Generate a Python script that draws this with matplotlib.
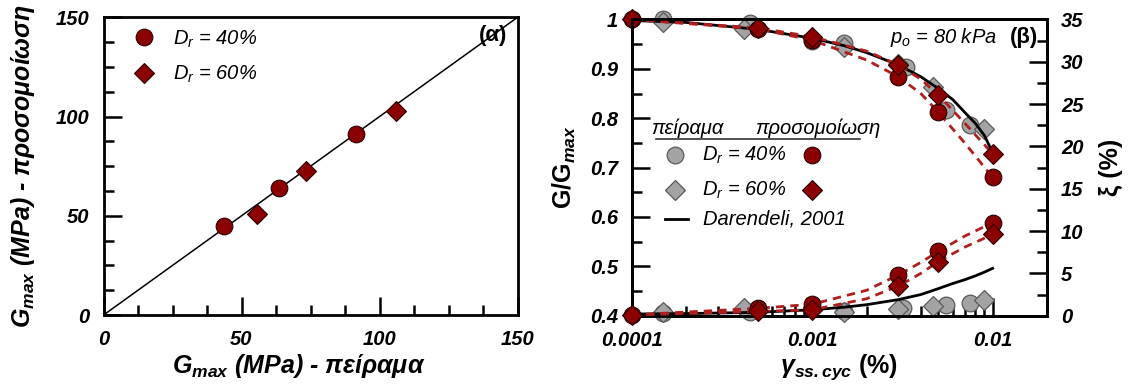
import matplotlib
matplotlib.use("Agg")
import matplotlib.pyplot as plt
from matplotlib.ticker import MultipleLocator, FixedLocator, FuncFormatter, LogLocator, NullFormatter

plt.rcParams['font.family'] = ['Liberation Sans', 'DejaVu Sans']
plt.rcParams['mathtext.fontset'] = 'custom'
plt.rcParams['mathtext.rm'] = 'Liberation Sans'
plt.rcParams['mathtext.it'] = 'Liberation Sans:italic'
plt.rcParams['mathtext.bf'] = 'Liberation Sans:bold'
plt.rcParams['mathtext.bfit'] = 'Liberation Sans:bold:italic'

# (α) Gmax: πείραμα vs προσομοίωση
gmax_exp_40 = [43.6, 63.5, 91.5]
gmax_sim_40 = [45.0, 64.2, 91.0]
gmax_exp_60 = [55.5, 73.5, 106.0]
gmax_sim_60 = [51.0, 72.5, 102.8]
line_11 = [0, 150]

# (β) πείραμα, G/Gmax
exp40_g_x = [1.5e-4, 4.5e-4, 1.0e-3, 1.5e-3, 3.3e-3, 5.5e-3, 7.5e-3]
exp40_g = [1.0, 0.992, 0.957, 0.952, 0.904, 0.817, 0.786]
exp60_g_x = [1.5e-4, 4.2e-4, 1.5e-3, 3.0e-3, 4.7e-3, 9.0e-3]
exp60_g = [0.994, 0.981, 0.945, 0.910, 0.864, 0.778]
# πείραμα, ξ (%)
exp40_d_x = [1.5e-4, 4.5e-4, 1.5e-3, 3.2e-3, 5.5e-3, 7.5e-3]
exp40_d = [0.3, 0.47, 0.6, 0.87, 1.26, 1.54]
exp60_d_x = [1.5e-4, 4.2e-4, 1.5e-3, 3.0e-3, 4.7e-3, 9.0e-3]
exp60_d = [0.47, 0.87, 0.47, 0.75, 1.15, 1.85]

# προσομοίωση, markers
sim_x = [1e-4, 5e-4, 1e-3, 3e-3, 5e-3, 1e-2]
sim40_g = [1.0, 0.981, 0.958, 0.884, 0.812, 0.680]
sim60_g = [1.0, 0.983, 0.965, 0.908, 0.847, 0.728]
sim40_d = [0.1, 0.87, 1.35, 4.8, 7.6, 11.0]
sim60_d = [0.1, 0.5, 0.7, 3.5, 6.4, 9.6]
# προσομοίωση, model curves
curve_x = [1e-4, 5e-4, 1e-3, 2e-3, 3e-3, 4e-3, 5e-3, 7e-3, 1e-2]
curve40_g = [1.0, 0.981, 0.958, 0.918, 0.884, 0.850, 0.812, 0.750, 0.680]
curve60_g = [1.0, 0.983, 0.965, 0.936, 0.908, 0.879, 0.847, 0.790, 0.728]
curve40_d = [0.1, 0.87, 1.35, 3.0, 4.8, 6.3, 7.6, 9.4, 11.0]
curve60_d = [0.1, 0.5, 0.7, 2.0, 3.5, 5.0, 6.4, 8.1, 9.6]

# Darendeli, 2001
dar_x = [1e-4, 2e-4, 5e-4, 1e-3, 1.5e-3, 2e-3, 3e-3, 4e-3, 5e-3, 6e-3, 7e-3, 8e-3, 9e-3, 1e-2]
dar_g = [0.998, 0.994, 0.980, 0.962, 0.947, 0.933, 0.908, 0.884, 0.860, 0.838, 0.812, 0.790, 0.765, 0.730]
dar_d = [0.2, 0.25, 0.4, 0.7, 1.0, 1.3, 1.9, 2.5, 3.2, 3.8, 4.25, 4.7, 5.15, 5.6]

RED = '#8B0000'
DASH = '#B01E1E'
GRAY = '#A3A3A3'
GRAY_EDGE = '#5A5A5A'

TICK_FS = 14.5
LABEL_FS = 18
TEXT_FS = 14.5


def style_ticks(ax, **kw):
    ax.tick_params(which='major', length=13, width=1.8, **kw)
    ax.tick_params(which='minor', length=7, width=1.8, **kw)


def bold_italic_labels(ax, axis):
    labels = ax.get_xticklabels() if axis == 'x' else ax.get_yticklabels()
    for t in labels:
        t.set_fontweight('bold')
        t.set_fontstyle('italic')


fig = plt.figure(figsize=(11.28, 3.85), dpi=100)

# ---------------- (α) ----------------
ax1 = fig.add_axes([0.0918, 0.1818, 0.367, 0.7732])
ax1.plot(line_11, line_11, color='black', lw=1.1, zorder=2)
ax1.plot(gmax_exp_40, gmax_sim_40, 'o', ms=12, mfc=RED, mec='#2a0000', mew=0.8,
         ls='none', zorder=3, label=r'$D_r$ = 40%')
ax1.plot(gmax_exp_60, gmax_sim_60, 'D', ms=10, mfc=RED, mec='#2a0000', mew=0.8,
         ls='none', zorder=3, label=r'$D_r$ = 60%')
ax1.set_xlim(0, 150)
ax1.set_ylim(0, 150)
for sp in ax1.spines.values():
    sp.set_linewidth(2)
ax1.xaxis.set_major_locator(MultipleLocator(50))
ax1.xaxis.set_minor_locator(MultipleLocator(12.5))
ax1.yaxis.set_major_locator(MultipleLocator(50))
ax1.yaxis.set_minor_locator(MultipleLocator(12.5))
style_ticks(ax1, top=False, right=False, direction='in', labelsize=TICK_FS)
ax1.tick_params(axis='x', pad=11)
ax1.tick_params(axis='y', pad=10)
bold_italic_labels(ax1, 'x')
bold_italic_labels(ax1, 'y')
ax1.set_xlabel(r'$\mathbfit{G_{max}}$ (MPa) - πείραμα', fontsize=LABEL_FS,
               fontweight='bold', fontstyle='italic')
ax1.set_ylabel(r'$\mathbfit{G_{max}}$ (MPa) - προσομοίωση', fontsize=LABEL_FS,
               fontweight='bold', fontstyle='italic')
ax1.xaxis.set_label_coords(0.472, -0.125)
ax1.yaxis.set_label_coords(-0.16, 0.5)
ax1.text(0.941, 0.9405, '(α)', transform=ax1.transAxes, fontsize=16,
         fontweight='bold', ha='center', va='center')
ax1.legend(loc='upper left', bbox_to_anchor=(0.05, 0.99), frameon=False,
           prop=dict(size=TEXT_FS, style='italic'), handletextpad=0.8,
           labelspacing=0.7, handlelength=1.2, borderaxespad=0)

# ---------------- (β) ----------------
ax2 = fig.add_axes([0.560, 0.18, 0.3682, 0.7694])
ax2.set_xscale('log')
ax2.set_xlim(1e-4, 0.02)
ax2.set_ylim(0.4, 1.0)
ax3 = ax2.twinx()
ax3.set_ylim(0, 35)

mk_gray = dict(mfc=GRAY, mec=GRAY_EDGE, mew=0.9, ls='none', clip_on=False)
mk_red = dict(mfc=RED, mec='#2a0000', mew=0.8, ls='none', clip_on=False)

# G/Gmax
ax2.plot(exp40_g_x, exp40_g, 'o', ms=12, zorder=2, **mk_gray)
ax2.plot(exp60_g_x, exp60_g, 'D', ms=10, zorder=2, **mk_gray)
ax2.plot(dar_x, dar_g, color='black', lw=2.0, zorder=3)
ax2.plot(curve_x, curve40_g, color=DASH, lw=2.0, ls=(0, (3, 2.2)), zorder=4)
ax2.plot(curve_x, curve60_g, color=DASH, lw=2.0, ls=(0, (3, 2.2)), zorder=4)
ax2.plot(sim_x, sim40_g, 'o', ms=12, zorder=5, **mk_red)
ax2.plot(sim_x, sim60_g, 'D', ms=10, zorder=6, **mk_red)

# ξ (%)
ax3.plot(exp40_d_x, exp40_d, 'o', ms=12, zorder=2, **mk_gray)
ax3.plot(exp60_d_x, exp60_d, 'D', ms=10, zorder=2, **mk_gray)
ax3.plot(dar_x, dar_d, color='black', lw=2.0, zorder=3)
ax3.plot(curve_x, curve40_d, color=DASH, lw=2.0, ls=(0, (3, 2.2)), zorder=4)
ax3.plot(curve_x, curve60_d, color=DASH, lw=2.0, ls=(0, (3, 2.2)), zorder=4)
ax3.plot(sim_x, sim40_d, 'o', ms=12, zorder=5, **mk_red)
ax3.plot(sim_x, sim60_d, 'D', ms=10, zorder=6, **mk_red)

for a in (ax2, ax3):
    for sp in a.spines.values():
        sp.set_linewidth(2)

ax2.xaxis.set_major_locator(FixedLocator([1e-4, 1e-3, 1e-2]))
ax2.xaxis.set_major_formatter(FuncFormatter(lambda v, p: f'{v:g}' if v >= 1e-3 else '0.0001'))
ax2.xaxis.set_minor_locator(LogLocator(base=10, subs=range(2, 10)))
ax2.xaxis.set_minor_formatter(NullFormatter())
ax2.yaxis.set_major_locator(MultipleLocator(0.1))
ax2.yaxis.set_minor_locator(MultipleLocator(0.05))
ax2.yaxis.set_major_formatter(FuncFormatter(lambda v, p: f'{v:g}'))
style_ticks(ax2, top=False, right=False, direction='in', labelsize=TICK_FS)
ax2.tick_params(axis='x', pad=11)
ax2.tick_params(axis='y', pad=10)

ax3.yaxis.set_major_locator(MultipleLocator(5))
ax3.yaxis.set_minor_locator(MultipleLocator(2.5))
style_ticks(ax3, direction='in', labelsize=TICK_FS, left=False, right=True)
ax3.tick_params(axis='y', pad=10)

for a, axis in ((ax2, 'x'), (ax2, 'y'), (ax3, 'y')):
    bold_italic_labels(a, axis)

ax2.set_xlabel(r'$\mathbfit{\gamma_{ss.cyc}}$ (%)', fontsize=LABEL_FS, fontweight='bold')
ax2.set_ylabel(r'$\mathbf{G/G_{\mathbfit{max}}}$', fontsize=LABEL_FS, fontweight='bold')
ax3.set_ylabel('ξ (%)', fontsize=LABEL_FS, fontweight='bold')
ax2.xaxis.set_label_coords(0.5, -0.125)
ax2.yaxis.set_label_coords(-0.13, 0.5)
ax3.yaxis.set_label_coords(1.125, 0.5)

ax2.text(0.622, 0.9375, r'$p_o$ = 80 kPa', transform=ax2.transAxes, fontsize=TEXT_FS,
         fontstyle='italic', ha='left', va='center')
ax2.text(0.945, 0.9375, '(β)', transform=ax2.transAxes, fontsize=16,
         fontweight='bold', ha='center', va='center')

# legend block
tr = ax2.transAxes
ax2.text(0.0457, 0.634, 'πείραμα', transform=tr, fontsize=TEXT_FS, fontstyle='italic',
         ha='left', va='center')
ax2.text(0.297, 0.634, 'προσομοίωση', transform=tr, fontsize=TEXT_FS, fontstyle='italic',
         ha='left', va='center')
ax2.plot([0.0585, 0.549], [0.5955, 0.5955], transform=tr, color='#333333', lw=1.2,
         clip_on=False, zorder=7)
rows = [(0.5425, 'o', 12, r'$D_r$ = 40%'), (0.4244, 'D', 10, r'$D_r$ = 60%')]
for fy, m, s, lab in rows:
    ax2.plot([0.104], [fy], m, ms=s, transform=tr, zorder=7, **mk_gray)
    ax2.plot([0.4334], [fy], m, ms=s, transform=tr, zorder=7, **mk_red)
    ax2.text(0.1686, fy, lab, transform=tr, fontsize=TEXT_FS, fontstyle='italic',
             ha='left', va='center')
ax2.plot([0.080, 0.136], [0.328, 0.328], transform=tr, color='black', lw=2.0, zorder=7)
ax2.text(0.171, 0.328, 'Darendeli, 2001', transform=tr, fontsize=TEXT_FS,
         fontstyle='italic', ha='left', va='center')

fig.savefig('out.png', dpi=100)
